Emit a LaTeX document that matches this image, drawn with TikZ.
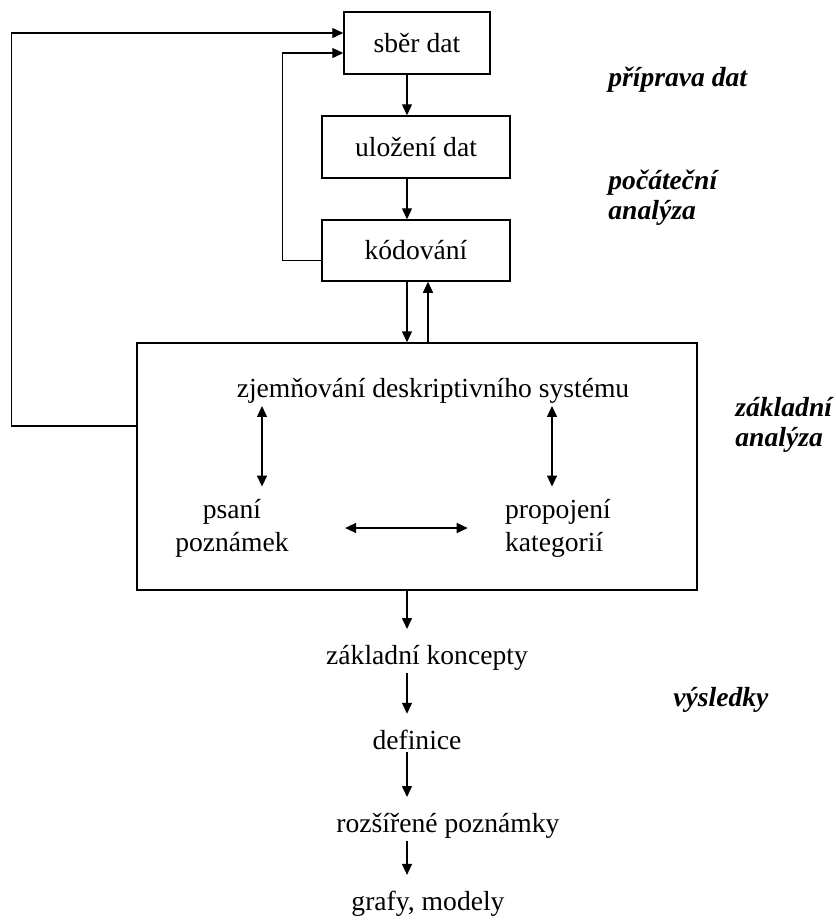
\documentclass[tikz,border=0pt]{standalone}
\usepackage{fontspec}
\setmainfont{Liberation Serif}
\usepackage{tikz}
\usetikzlibrary{arrows.meta, positioning, calc}
\newcommand{\diagfont}{\fontsize{13.8}{16.5}\selectfont}
\tikzset{
  block/.style={rectangle, draw=black, line width=0.75pt, align=center, inner sep=0pt},
  item/.style={align=center, inner sep=1pt},
  stage/.style={font=\fontsize{13.8}{15}\selectfont\bfseries\itshape, align=left, anchor=west, inner sep=0pt},
  arrow/.style={-{Triangle[length=5.5pt,width=5pt]}, line width=0.7pt},
  arrowt/.style={arrow, shorten >=7pt},
  darrow/.style={{Triangle[length=5.5pt,width=5pt]}-{Triangle[length=5.5pt,width=5pt]}, line width=0.75pt}
}

\begin{document}
\begin{tikzpicture}[x=0.5pt, y=-0.5pt, every node/.style={font=\diagfont}]
  \useasboundingbox (0,0) rectangle (836,923);

  % Data boxes
  \node[block, minimum width=73pt, minimum height=31pt] (sber) at (417,43) {sběr dat};
  \node[block, minimum width=94pt, minimum height=31pt] (ulozeni) at (416,147) {uložení dat};
  \node[block, minimum width=94pt, minimum height=30.5pt] (kodovani) at (416,250.5) {kódování};

  % Main analysis box with its inner items
  \node[block, minimum width=280pt, minimum height=123.5pt] (analyza) at (417,466.5) {};
  \node[item] (zjem) at (433,391) {zjemňování deskriptivního systému};
  \node[item] (psani) at (232,528) {psaní\\poznámek};
  \node[item, align=left] (propoj) at (558,528) {propojení\\kategorií};

  % Results
  \node[item] (koncepty) at (427,658) {základní koncepty};
  \node[item] (definice) at (417,740) {definice};
  \node[item] (rozsir) at (448,826) {rozšířené poznámky};
  \node[item] (grafy) at (428,904) {grafy, modely};

  % Stage labels
  \node[stage] (lpriprava) at (608,80) {příprava dat};
  \node[stage] (lpocatecni) at (608,198) {počáteční\\analýza};
  \node[stage] (lzakladni) at (735,425) {základní\\analýza};
  \node[stage] (lvysledky) at (673,700) {výsledky};

  % Main column arrows
  \coordinate (colx) at (407,0);
  \coordinate (upx) at (428,0);
  \draw[arrow] (sber.south -| colx) -- (ulozeni.north -| colx);
  \draw[arrow] (ulozeni.south -| colx) -- (kodovani.north -| colx);
  \draw[arrow] (kodovani.south -| colx) -- (analyza.north -| colx);
  \draw[arrow] (analyza.north -| upx) -- (kodovani.south -| upx);
  \draw[arrowt] (analyza.south -| colx) -- (koncepty.north -| colx);
  \draw[arrowt] (koncepty.south -| colx) -- (definice.north -| colx);
  \draw[arrowt] (definice.south -| colx) -- (rozsir.north -| colx);
  \draw[arrowt] (rozsir.south -| colx) -- (grafy.north -| colx);

  % Feedback loops back to data collection
  \draw[arrow] ([yshift=20.25pt]analyza.west) -- ++(-125,0) |- ([yshift=5pt]sber.west);
  \draw[arrow] ([yshift=-5pt]kodovani.west) -- ++(-39,0) |- ([yshift=-5pt]sber.west);

  % Arrows inside the analysis box
  \coordinate (lx) at (262,0);
  \coordinate (rx) at (552,0);
  \draw[darrow, shorten >=5pt] (zjem.south -| lx) -- (psani.north -| lx);
  \draw[darrow, shorten >=5pt] (zjem.south -| rx) -- (propoj.north -| rx);
  \draw[darrow] ([xshift=27pt]psani.east) -- ([xshift=-17.5pt]propoj.west);
\end{tikzpicture}
\end{document}
